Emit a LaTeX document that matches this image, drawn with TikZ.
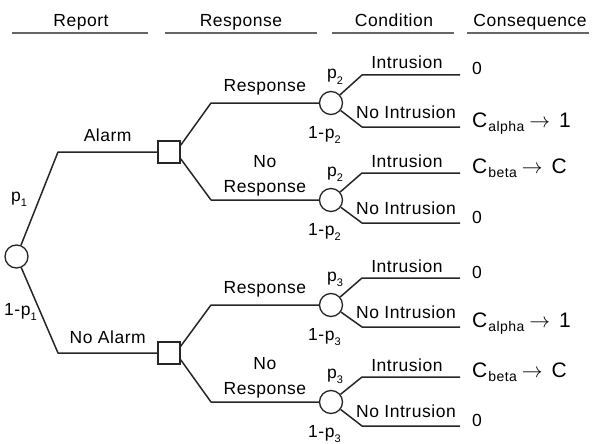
\documentclass[tikz,border=0pt]{standalone}
\usepackage{fontspec}
\setmainfont{Liberation Sans}[LetterSpace=3]
\usepackage{tikz}
\usetikzlibrary{positioning,calc}
\tikzstyle{chance}=[circle,draw=black!85,line width=1.3pt,minimum size=23pt,inner sep=0pt]
\tikzstyle{choice}=[rectangle,draw=black!85,line width=1.3pt,minimum size=22pt,inner sep=0pt]
\tikzstyle{br}=[draw=black!85,line width=1.5pt,line join=round]
\tikzset{
	lbl/.style={font=\fontsize{17.5}{25}\selectfont,inner sep=0pt,align=center},
	hd/.style={font=\fontsize{17.5}{20}\selectfont,inner sep=0pt,anchor=base},
	hrule/.style={draw=black!60,line width=1.2pt}
}
\newcommand{\lo}[1]{\raisebox{-0.3em}{\fontsize{11}{12}\selectfont #1}}
\newcommand{\cost}[2]{{\fontsize{21}{24}\selectfont C}\kern1pt\raisebox{-4pt}{\fontsize{14}{15}\selectfont #1}\hspace{5pt}{\fontsize{20}{24}\selectfont$\rightarrow$}\hspace{9pt}{\fontsize{21}{24}\selectfont #2}}

\begin{document}
\begin{tikzpicture}[x=1pt,y=-1pt]
    \useasboundingbox (0,0) rectangle (592,444);
    % column heads
    \node[hd] (hRep) at (81,27) {Report};
    \node[hd] (hResp) at (241,27) {Response};
    \node[hd] (hCond) at (394,27) {Condition};
    \node[hd] (hCons) at (530,27) {Consequence};
    \draw[hrule] (12,33) -- (148,33);
    \draw[hrule] (165,33) -- (317,33);
    \draw[hrule] (332,33) -- (454,33);
    \draw[hrule] (467,33) -- (589,33);

    % report
    \node[chance] (root) at (16.5,256.5) {};
    \coordinate (kA) at (58,152);
    \coordinate (kB) at (58,353);
    \node[choice] (dA) at (169,152) {};
    \node[choice] (dB) at (169,353) {};
    \draw[br] (root) -- (kA) -- node[lbl,anchor=base,yshift=10.5pt] {Alarm} (dA);
    \draw[br] (root) -- (kB) -- node[lbl,anchor=base,yshift=10pt] {No Alarm} (dB);
    \node[lbl,anchor=base west] (pA) at (11,201) {p\lo{1}};
    \node[lbl,anchor=base west] (pB) at (4,315) {1-p\lo{1}};

    % response
    \coordinate (kA1) at (211,103);
    \coordinate (kA2) at (211,200);
    \coordinate (kB1) at (211,305);
    \coordinate (kB2) at (211,402);
    \node[chance] (cA1) at (331,103) {};
    \node[chance] (cA2) at (331,200) {};
    \node[chance] (cB1) at (331,305) {};
    \node[chance] (cB2) at (331,402) {};
    \draw[br] (dA.30) -- (kA1) -- node[lbl,anchor=base,yshift=11.5pt] {Response} (cA1);
    \draw[br] (dA.-30) -- (kA2) -- node[lbl,anchor=south,yshift=3.5pt] {No\\Response} (cA2);
    \draw[br] (dB.30) -- (kB1) -- node[lbl,anchor=base,yshift=11.5pt] {Response} (cB1);
    \draw[br] (dB.-30) -- (kB2) -- node[lbl,anchor=south,yshift=3pt] {No\\Response} (cB2);

    % condition and consequence
    \foreach \c/\u/\d/\ta/\tb/\n in {cA1/75/127/0/{\cost{alpha}{1}}/2,
        cA2/173/223/{\cost{beta}{C}}/0/2,
        cB1/278/327/0/{\cost{alpha}{1}}/3,
        cB2/377/426/{\cost{beta}{C}}/0/3}{
      \coordinate (\c-u) at (362,\u);
      \coordinate (\c-ue) at (460,\u);
      \coordinate (\c-d) at (362,\d);
      \coordinate (\c-de) at (460,\d);
      \draw[br] (\c) -- (\c-u) -- node[lbl,anchor=base,yshift=6pt,xshift=-4pt] {Intrusion} (\c-ue);
      \draw[br] (\c) -- (\c-d) -- node[lbl,anchor=base,yshift=9pt,xshift=-5pt] {No Intrusion} (\c-de);
      \node[lbl,anchor=base west] (\c-p) at ([shift={(-4,-24)}]\c.center) {p\lo{\n}};
      \node[lbl,anchor=base west] (\c-q) at ([shift={(-23,35)}]\c.center) {1-p\lo{\n}};
      \node[lbl,anchor=base west] (\c-a) at ([xshift=12pt]\c-ue) {\ta};
      \node[lbl,anchor=base west] (\c-b) at ([xshift=12pt]\c-de) {\tb};
    }
\end{tikzpicture}
\end{document}
